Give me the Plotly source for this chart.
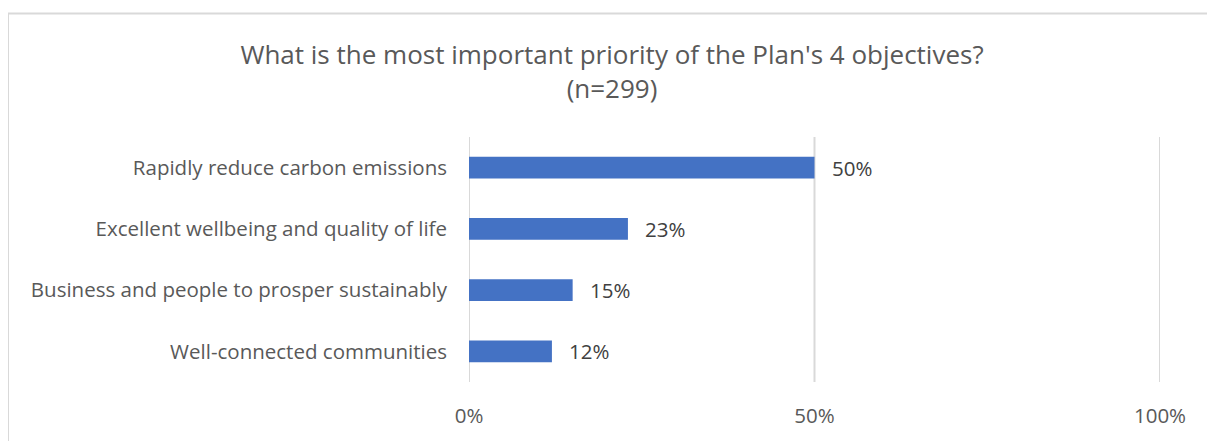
import plotly.graph_objects as go

categories = ["Rapidly reduce carbon emissions", "Excellent wellbeing and quality of life",
              "Business and people to prosper sustainably", "Well-connected communities"]
values = [50, 23, 15, 12]
labels = ["50%", "23%", "15%", "12%"]
tick_vals = [0, 50, 100]
tick_text = ["0%", "50%", "100%"]

# page body has an 8px margin, so the figure is placed at (8, 8)
W, H = 1207, 433
ml, mr, mt, mb = 461, 55, 129, 54
pw, ph = W - ml - mr, H - mt - mb

font = "Open Sans"
grey = "#595959"

fig = go.Figure()
fig.add_trace(go.Bar(
    y=categories, x=values, orientation="h",
    marker=dict(color="#4472C4", line=dict(width=0)),
    hoverinfo="skip",
))

for c, v, t in zip(categories, values, labels):
    fig.add_annotation(x=v, y=c, text=t, showarrow=False, xanchor="left",
                       xshift=15, font=dict(family=font, size=20.5, color="#404040"))


def px_x(x):
    return (x - ml) / pw


def px_y(y):
    return 1 - (y - mt) / ph


shapes = [dict(type="rect", xref="paper", yref="paper",
               x0=px_x(0), x1=px_x(1240), y0=px_y(470), y1=px_y(3),
               line=dict(color="#d9d9d9", width=2), layer="below")]
for tv in tick_vals:
    shapes.append(dict(type="line", xref="x", yref="paper", x0=tv, x1=tv, y0=0, y1=1,
                       line=dict(color="#d9d9d9", width=2), layer="below"))

fig.update_layout(
    width=W, height=H,
    margin=dict(l=ml, r=mr, t=mt, b=mb),
    paper_bgcolor="white", plot_bgcolor="white",
    bargap=0.645,
    showlegend=False,
    title=dict(text="What is the most important priority of the Plan's 4 objectives?<br>(n=299)",
               x=604 / W, xanchor="center", y=1 - 56 / H, yanchor="middle",
               font=dict(family=font, size=26, color=grey)),
    xaxis=dict(range=[0, 100], tickvals=tick_vals, ticktext=tick_text,
               showgrid=False, zeroline=False, showline=False, ticks="",
               ticklabelstandoff=19,
               tickfont=dict(family=font, size=20.5, color=grey)),
    yaxis=dict(categoryorder="array", categoryarray=categories[::-1],
               showgrid=False, zeroline=False, showline=False, ticks="",
               ticklabelstandoff=21,
               tickfont=dict(family=font, size=20.5, color=grey)),
    shapes=shapes,
)

fig.write_html("out.html")
